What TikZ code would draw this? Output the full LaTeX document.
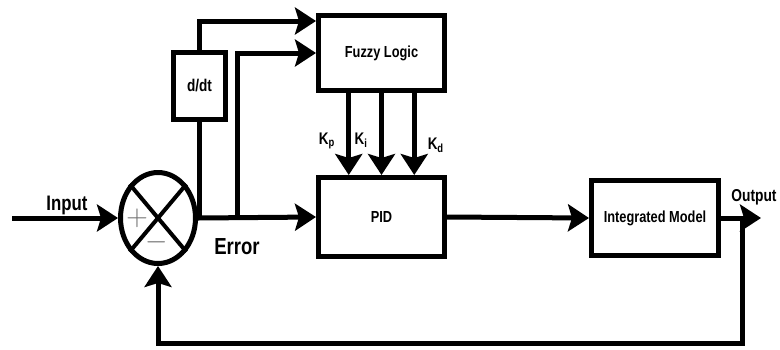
\documentclass[tikz,border=0pt]{standalone}
\usepackage{fontspec}
\setmainfont{Liberation Sans}[FakeStretch=0.8]
\usetikzlibrary{arrows.meta,shapes.geometric,calc}

\begin{document}
\begin{tikzpicture}[x=0.5pt,y=0.5pt,yscale=-1,xscale=1,
  block/.style={draw,line width=2.5pt,minimum width=63pt,minimum height=37.5pt,inner sep=0pt,font=\bfseries\fontsize{8}{9}\selectfont},
  wire/.style={line width=2.5pt},
  arr/.style={-{Stealth[length=10.5pt,width=13.5pt,inset=2pt]}},
  lbl/.style={inner sep=0pt,font=\bfseries\fontsize{8.4}{9}\selectfont},
  sign/.style={inner sep=0pt,text=black!55,font=\fontsize{15}{15}\selectfont},
]
  \useasboundingbox (0,0) rectangle (780,349);
  % summing junction
  \node[draw,ellipse,line width=2.5pt,minimum width=37.5pt,minimum height=45.5pt,inner sep=0pt] (sum) at (158,218) {};
  \draw[line width=2pt] (sum.50) -- (sum.230);
  \draw[line width=2pt] (sum.130) -- (sum.310);
  \node[sign] (plus) at (137,218) {$+$};
  \node[sign] (minus) at (157,242) {$-$};
  % blocks
  \node[block,minimum width=26pt,minimum height=33.5pt,font=\bfseries\fontsize{8.5}{9}\selectfont] (dt) at (199.5,86) {d/dt};
  \node[block] (fuzzy) at (381.5,53) {Fuzzy Logic};
  \node[block,minimum height=39.5pt] (pid) at (381.5,217) {PID};
  \node[block,minimum width=63.5pt] (im) at (655,218) {Integrated Model};
  % inputs and outputs
  \coordinate (in) at (12,218);
  \coordinate (tap) at (237,218);
  \coordinate (fb) at (742,218);
  \coordinate (out) at (761,218);
  \draw[wire,arr] (in) -- (sum.west);
  \draw[wire,arr] (sum.east) -- (pid.west);
  \draw[wire] (sum.east -| dt.south) -- (dt.south);
  \draw[wire,arr] (dt.north) |- ($(fuzzy.north west)!0.1!(fuzzy.south west)$);
  \draw[wire,arr] (tap) |- (fuzzy.west);
  % gains
  \foreach \f/\k/\side/\p in {0.25/p/left/0.58,0.5/i/left/0.57,0.75/d/right/0.64} {
    \coordinate (k\k) at ($(fuzzy.south west)!\f!(fuzzy.south east)$);
    \draw[wire,arr] (k\k) -- (k\k |- pid.north)
      node[lbl,pos=\p,\side=5.5pt] {K\textsubscript{\k}};
  }
  \draw[wire,arr] (pid.east) -- (im.west);
  \draw[wire,arr] (im.east) -- (out);
  \draw[wire,arr] (fb) -- ++(0,125) -| (sum.south);
  % labels
  \node[lbl,font=\bfseries\fontsize{10.5}{11}\selectfont] (inlbl) at (67,205) {Input};
  \node[lbl,font=\bfseries\fontsize{11.6}{12}\selectfont] (errlbl) at (237,247) {Error};
  \node[lbl,font=\bfseries\fontsize{8.6}{9}\selectfont] (outlbl) at (754,197) {Output};
\end{tikzpicture}
\end{document}
